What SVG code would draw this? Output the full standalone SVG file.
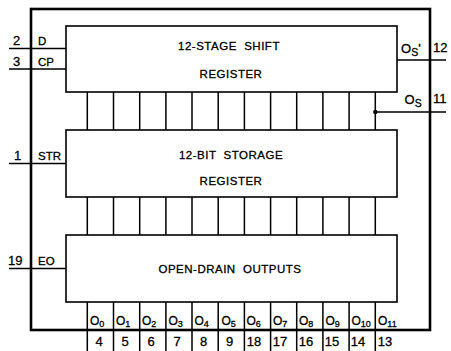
<svg xmlns="http://www.w3.org/2000/svg" width="451" height="351" viewBox="0 0 451 351">
<style>
.box{fill:#fff;stroke:#000;stroke-width:1.6}
.outer{fill:none;stroke:#000;stroke-width:2.6}
.ln{stroke:#000;stroke-width:1.5;fill:none}
.t{font-family:"Liberation Sans",Arial,sans-serif;fill:#000;stroke:#000;stroke-width:0.3}
.title{font-size:11.5px;letter-spacing:0.5px;text-anchor:middle;white-space:pre}
.pin{font-size:13px}
.sig{font-size:11.5px}
.cell{font-size:12px}
.sub{font-size:9px}
</style>
<rect width="451" height="351" fill="#fff"/>
<g id="outline"><rect class="outer" x="31" y="9" width="399" height="321"/></g>
<g id="connectors">
<path class="ln" d="M87.3 92V130M113.5 92V130M139.7 92V130M165.9 92V130M192 92V130M218.2 92V130M244.4 92V130M270.6 92V130M296.7 92V130M322.9 92V130M349.1 92V130M375.3 92V130"/>
<path class="ln" d="M87.3 197V235M113.5 197V235M139.7 197V235M165.9 197V235M192 197V235M218.2 197V235M244.4 197V235M270.6 197V235M296.7 197V235M322.9 197V235M349.1 197V235M375.3 197V235"/>
<path class="ln" d="M87.3 302V351M113.5 302V351M139.7 302V351M165.9 302V351M192 302V351M218.2 302V351M244.4 302V351M270.6 302V351M296.7 302V351M322.9 302V351M349.1 302V351M375.3 302V351"/>
<path class="ln" d="M9 48.5H66M9 69H66M9 163.5H66M9 268.5H66M397 60H446M375.3 112H446"/>
<circle cx="375.3" cy="112" r="2.2" fill="#000"/>
</g>
<g id="shift-register">
<rect class="box" x="66" y="26" width="331" height="66"/>
<text class="t title" x="229" y="50" xml:space="preserve">12-STAGE  SHIFT</text>
<text class="t title" x="231" y="77.5">REGISTER</text>
</g>
<g id="storage-register">
<rect class="box" x="66" y="130" width="331" height="67"/>
<text class="t title" x="231" y="158.5" xml:space="preserve">12-BIT  STORAGE</text>
<text class="t title" x="231" y="185">REGISTER</text>
</g>
<g id="open-drain-outputs">
<rect class="box" x="66" y="235" width="331" height="67"/>
<text class="t title" x="230" y="273" font-size="12.3" xml:space="preserve">OPEN-DRAIN  OUTPUTS</text>
</g>
<g id="pin-D"><text class="t pin" x="13" y="45">2</text><text class="t sig" x="38" y="45">D</text></g>
<g id="pin-CP"><text class="t pin" x="13" y="65.5">3</text><text class="t sig" x="38" y="65.5">CP</text></g>
<g id="pin-STR"><text class="t pin" x="14" y="160">1</text><text class="t sig" x="38" y="160">STR</text></g>
<g id="pin-EO"><text class="t pin" x="8" y="265">19</text><text class="t sig" x="38" y="265">EO</text></g>
<g id="pin-OS1"><text class="t" x="401" y="53" font-size="13">O<tspan font-size="10.5" dy="3">S</tspan><tspan dy="-3">'</tspan></text><text class="t pin" x="433" y="52">12</text></g>
<g id="pin-OS"><text class="t" x="404.5" y="104" font-size="13">O<tspan font-size="10.5" dy="3">S</tspan></text><text class="t pin" x="433" y="103">11</text></g>
<g id="outputs">
<text class="t cell" x="90" y="325">O<tspan class="sub" dy="2">0</tspan></text>
<text class="t cell" x="116" y="325">O<tspan class="sub" dy="2">1</tspan></text>
<text class="t cell" x="142" y="325">O<tspan class="sub" dy="2">2</tspan></text>
<text class="t cell" x="168.5" y="325">O<tspan class="sub" dy="2">3</tspan></text>
<text class="t cell" x="194.5" y="325">O<tspan class="sub" dy="2">4</tspan></text>
<text class="t cell" x="221.5" y="325">O<tspan class="sub" dy="2">5</tspan></text>
<text class="t cell" x="246.5" y="325">O<tspan class="sub" dy="2">6</tspan></text>
<text class="t cell" x="273" y="325">O<tspan class="sub" dy="2">7</tspan></text>
<text class="t cell" x="299" y="325">O<tspan class="sub" dy="2">8</tspan></text>
<text class="t cell" x="325.5" y="325">O<tspan class="sub" dy="2">9</tspan></text>
<text class="t cell" x="351.5" y="325">O<tspan class="sub" dy="2">10</tspan></text>
<text class="t cell" x="378" y="325">O<tspan class="sub" dy="2">11</tspan></text>
</g>
<g id="pin-numbers" text-anchor="middle">
<text class="t pin" x="99" y="346">4</text>
<text class="t pin" x="125" y="346">5</text>
<text class="t pin" x="151" y="346">6</text>
<text class="t pin" x="177" y="346">7</text>
<text class="t pin" x="203.5" y="346">8</text>
<text class="t pin" x="229.5" y="346">9</text>
<text class="t pin" x="254" y="346">18</text>
<text class="t pin" x="280" y="346">17</text>
<text class="t pin" x="306" y="346">16</text>
<text class="t pin" x="332" y="346">15</text>
<text class="t pin" x="358" y="346">14</text>
<text class="t pin" x="385" y="346">13</text>
</g>
</svg>
